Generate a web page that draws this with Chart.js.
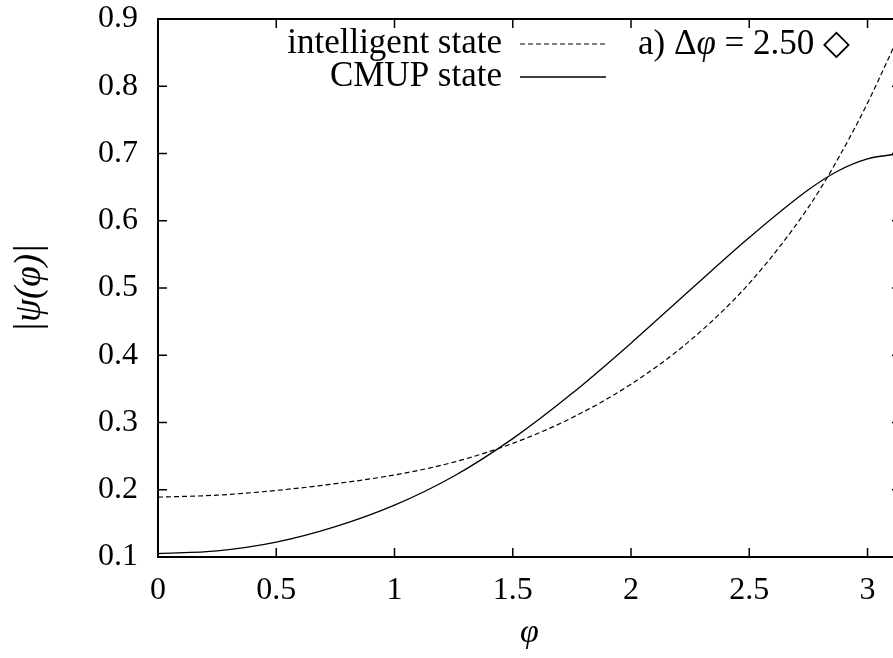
<!DOCTYPE html>
<html>
<head>
<meta charset="utf-8">
<script src="https://cdn.jsdelivr.net/npm/chart.js@4"></script>
<style>
  html, body { margin: 0; padding: 0; background: #fff; overflow: hidden; }
  #wrap { width: 910px; height: 658px; }
</style>
</head>
<body>
<div id="wrap"><canvas id="chart" width="910" height="658"></canvas></div>
<script>
// phi values (x) and |psi(phi)| for both states
const phiValues = [0, 0.25, 0.5, 0.75, 1.0, 1.25, 1.5, 1.75, 2.0, 2.25, 2.5, 2.75, 2.875, 3.0, 3.1416];
const intelligentValues = [0.189, 0.192, 0.199, 0.209, 0.222, 0.241, 0.269, 0.307, 0.357, 0.422, 0.507, 0.620, 0.692, 0.775, 0.882];
const cmupValues = [0.105, 0.109, 0.122, 0.145, 0.177, 0.220, 0.276, 0.343, 0.418, 0.497, 0.575, 0.646, 0.674, 0.692, 0.700];

const seriesLabels = ['intelligent state', 'CMUP state'];
const xTickValues = [0, 0.5, 1, 1.5, 2, 2.5, 3];
const xTickLabels = ['0', '0.5', '1', '1.5', '2', '2.5', '3'];
const yTickValues = [0.1, 0.2, 0.3, 0.4, 0.5, 0.6, 0.7, 0.8, 0.9];
const yTickLabels = ['0.1', '0.2', '0.3', '0.4', '0.5', '0.6', '0.7', '0.8', '0.9'];

const FONT = "'Liberation Serif', 'DejaVu Serif', serif";
Chart.defaults.font.family = FONT;
Chart.defaults.font.size = 32;
Chart.defaults.color = '#000';

// gnuplot style frame: inward ticks on all four sides, key and annotation
const framePlugin = {
  id: 'frame',
  afterDatasetsDraw(chart) {
    const { ctx, chartArea: a, scales: { x, y } } = chart;
    const line = (x1, y1, x2, y2) => {
      ctx.beginPath(); ctx.moveTo(x1, y1); ctx.lineTo(x2, y2); ctx.stroke();
    };
    ctx.save();
    ctx.strokeStyle = '#000';
    ctx.lineWidth = 1.5;
    xTickValues.forEach(v => {
      const px = x.getPixelForValue(v);
      line(px, a.bottom, px, a.bottom - 9);
      line(px, a.top, px, a.top + 9);
    });
    yTickValues.forEach(v => {
      const py = y.getPixelForValue(v);
      line(a.left, py, a.left + 9, py);
      line(a.right, py, a.right - 9, py);
    });
    ctx.lineWidth = 2;
    ctx.strokeRect(a.left, a.top, a.right - a.left, a.bottom - a.top);

    // key
    ctx.font = '35px ' + FONT;
    ctx.fillStyle = '#000';
    ctx.textAlign = 'right';
    ctx.textBaseline = 'middle';
    const keyRows = [44, 77];
    chart.data.datasets.forEach((ds, i) => {
      ctx.fillText(ds.label, 502, keyRows[i]);
      ctx.lineWidth = ds.borderWidth;
      ctx.setLineDash(ds.borderDash || []);
      line(520, keyRows[i], 606, keyRows[i]);
      ctx.setLineDash([]);
    });

    // annotation
    ctx.textAlign = 'left';
    let tx = 638;
    const parts = [['a) \u0394', 'normal'], ['\u03c6', 'italic'], [' = 2.50 \u25c7', 'normal']];
    parts.forEach(([t, style]) => {
      ctx.font = style + ' 35px ' + FONT;
      ctx.fillText(t, tx, 45);
      tx += ctx.measureText(t).width;
    });
    ctx.restore();
  }
};

new Chart(document.getElementById('chart'), {
  type: 'line',
  data: {
    datasets: [
      {
        label: seriesLabels[0],
        data: phiValues.map((p, i) => ({ x: p, y: intelligentValues[i] })),
        borderColor: '#000',
        borderWidth: 1.2,
        borderDash: [5, 3],
        pointRadius: 0,
        fill: false,
        cubicInterpolationMode: 'monotone'
      },
      {
        label: seriesLabels[1],
        data: phiValues.map((p, i) => ({ x: p, y: cmupValues[i] })),
        borderColor: '#000',
        borderWidth: 1.3,
        pointRadius: 0,
        fill: false,
        cubicInterpolationMode: 'monotone'
      }
    ]
  },
  options: {
    responsive: false,
    animation: false,
    layout: { padding: { top: 19, right: 9, left: 0, bottom: 0 } },
    plugins: {
      legend: { display: false },
      tooltip: { enabled: false }
    },
    scales: {
      x: {
        type: 'linear',
        min: 0,
        max: Math.PI,
        afterBuildTicks: s => { s.ticks = xTickValues.map(v => ({ value: v })); },
        afterFit: s => { s.height = 101; s.paddingLeft = 0; s.paddingRight = 0; },
        ticks: {
          padding: 14,
          maxRotation: 0,
          callback: v => xTickLabels[xTickValues.indexOf(v)]
        },
        grid: { display: false, drawTicks: false },
        border: { display: false },
        title: {
          display: true,
          text: '\u03c6',
          font: { size: 34, style: 'italic' },
          padding: { top: 0, bottom: 5 }
        }
      },
      y: {
        min: 0.1,
        max: 0.9,
        afterBuildTicks: s => { s.ticks = yTickValues.map(v => ({ value: v })); },
        afterFit: s => { s.width = 158; s.paddingTop = 0; s.paddingBottom = 0; },
        ticks: {
          padding: 20,
          callback: v => yTickLabels[yTickValues.indexOf(v)]
        },
        grid: { display: false, drawTicks: false },
        border: { display: false },
        title: {
          display: true,
          text: '|\u03c8(\u03c6)|',
          font: { size: 37, style: 'italic' },
          padding: { top: 8, bottom: 0 }
        }
      }
    }
  },
  plugins: [framePlugin]
});
</script>
</body>
</html>
